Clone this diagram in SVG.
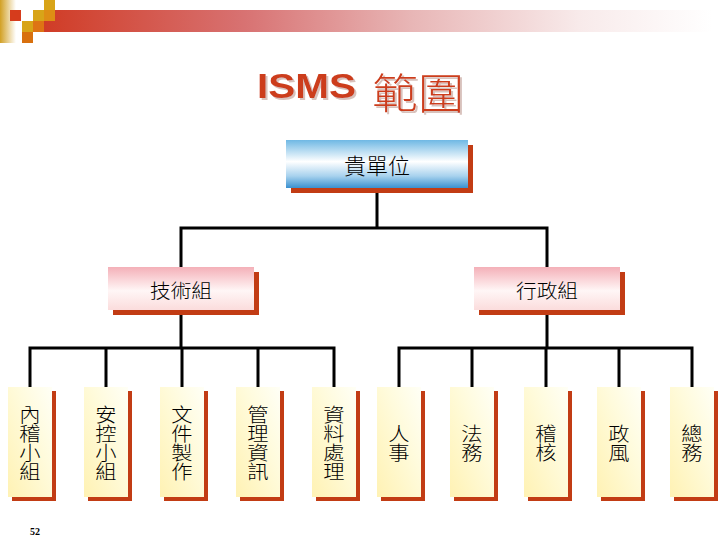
<svg xmlns="http://www.w3.org/2000/svg" width="720" height="540" viewBox="0 0 720 540">
<defs>
<linearGradient id="bar" x1="0" y1="0" x2="1" y2="0">
<stop offset="0" stop-color="#d03c26"/>
<stop offset="0.3" stop-color="#d87272"/>
<stop offset="0.55" stop-color="#e8b6b6"/>
<stop offset="0.8" stop-color="#f8eaea"/>
<stop offset="1" stop-color="#ffffff"/>
</linearGradient>
<linearGradient id="gold" x1="0" y1="0" x2="1" y2="0">
<stop offset="0" stop-color="#d2a024"/>
<stop offset="1" stop-color="#ffffff"/>
</linearGradient>
<linearGradient id="blue" x1="0" y1="0" x2="0" y2="1">
<stop offset="0" stop-color="#6fb8e4"/>
<stop offset="0.45" stop-color="#ffffff"/>
<stop offset="0.75" stop-color="#a8d2ee"/>
<stop offset="1" stop-color="#3a90d0"/>
</linearGradient>
<linearGradient id="pink" x1="0" y1="0" x2="0" y2="1">
<stop offset="0" stop-color="#f4b0b8"/>
<stop offset="0.55" stop-color="#fff6f6"/>
<stop offset="1" stop-color="#fbdcdc"/>
</linearGradient>
<linearGradient id="yellow" x1="0" y1="1" x2="1" y2="0">
<stop offset="0" stop-color="#fff2b4"/>
<stop offset="0.6" stop-color="#fffbdc"/>
<stop offset="1" stop-color="#fffff6"/>
</linearGradient>
<filter id="tshadow" x="-5%" y="-10%" width="115%" height="130%">
<feDropShadow dx="2" dy="2" stdDeviation="0.4" flood-color="#c8a8a0" flood-opacity="0.7"/>
</filter>
<style>
.sh{fill:#c23c14}
.top{fill:url(#blue)}
.mid{fill:url(#pink)}
.leaf{fill:url(#yellow)}
.cjk{font-family:"Noto Sans CJK TC","Noto Sans CJK SC",sans-serif;font-weight:300;fill:#000}
.v{font-size:19px;text-anchor:middle}
.conn{stroke:#000;stroke-width:3;fill:none;stroke-linecap:square}
</style>
</defs>

<g id="header">
<rect x="0" y="0" width="16" height="43" fill="url(#gold)"/>
<rect x="44" y="10" width="668" height="22" fill="url(#bar)"/>
<rect x="10" y="10" width="11" height="11" fill="#d63c1c"/>
<rect x="44" y="0" width="11" height="10" fill="#d8a418"/>
<rect x="33" y="10" width="11" height="11" fill="#d8a418"/>
<rect x="44" y="10" width="11" height="11" fill="#de8e14"/>
<rect x="22" y="21" width="11" height="11" fill="#d8a418"/>
<rect x="33" y="21" width="11" height="11" fill="#de7414"/>
<rect x="22" y="32" width="11" height="11" fill="#d8700e"/>
</g>

<g id="title" filter="url(#tshadow)">
<text x="257" y="98" font-family="Liberation Sans, Arial, sans-serif" font-weight="bold" font-size="35" textLength="99" lengthAdjust="spacingAndGlyphs" fill="#cc3d1e">ISMS</text>
<text x="372" y="109" class="cjk" font-size="42" textLength="92" lengthAdjust="spacingAndGlyphs" style="fill:#cc3d1e">範圍</text>
</g>

<g id="connectors">
<path class="conn" d="M377 188V228M181 228H547M181 228V267M547 228V267"/>
<path class="conn" d="M181 310V348M30 348H334M30 348V387M106 348V387M182 348V387M258 348V387M334 348V387"/>
<path class="conn" d="M547 310V348M399 348H692M399 348V387M472 348V387M546 348V387M619 348V387M692 348V387"/>
</g>

<g id="n-root">
<rect class="sh" x="291" y="145" width="182" height="48"/>
<rect class="top" x="286" y="140" width="182" height="48"/>
<text class="cjk" x="377" y="174" font-size="22" text-anchor="middle">貴單位</text>
</g>

<g id="n-tech">
<rect class="sh" x="113" y="272" width="146" height="43"/>
<rect class="mid" x="108" y="267" width="146" height="43"/>
<text class="cjk" x="181" y="298" font-size="19" text-anchor="middle" textLength="62" lengthAdjust="spacingAndGlyphs">技術組</text>
</g>

<g id="n-admin">
<rect class="sh" x="479" y="272" width="146" height="43"/>
<rect class="mid" x="474" y="267" width="146" height="43"/>
<text class="cjk" x="547" y="298" font-size="19" text-anchor="middle" textLength="62" lengthAdjust="spacingAndGlyphs">行政組</text>
</g>

<g id="n-audit-team">
<rect class="sh" x="12" y="391" width="44" height="110"/>
<rect class="leaf" x="8" y="387" width="44" height="110"/>
<text class="cjk v" transform="translate(30 0) scale(1.12 1)"><tspan x="0" y="421.7">內</tspan><tspan x="0" y="440.7">稽</tspan><tspan x="0" y="459.7">小</tspan><tspan x="0" y="478.7">組</tspan></text>
</g>

<g id="n-security-team">
<rect class="sh" x="88" y="391" width="44" height="110"/>
<rect class="leaf" x="84" y="387" width="44" height="110"/>
<text class="cjk v" transform="translate(106 0) scale(1.12 1)"><tspan x="0" y="421.7">安</tspan><tspan x="0" y="440.7">控</tspan><tspan x="0" y="459.7">小</tspan><tspan x="0" y="478.7">組</tspan></text>
</g>

<g id="n-docs">
<rect class="sh" x="164" y="391" width="44" height="110"/>
<rect class="leaf" x="160" y="387" width="44" height="110"/>
<text class="cjk v" transform="translate(182 0) scale(1.12 1)"><tspan x="0" y="421.7">文</tspan><tspan x="0" y="440.7">件</tspan><tspan x="0" y="459.7">製</tspan><tspan x="0" y="478.7">作</tspan></text>
</g>

<g id="n-mis">
<rect class="sh" x="240" y="391" width="44" height="110"/>
<rect class="leaf" x="236" y="387" width="44" height="110"/>
<text class="cjk v" transform="translate(258 0) scale(1.12 1)"><tspan x="0" y="421.7">管</tspan><tspan x="0" y="440.7">理</tspan><tspan x="0" y="459.7">資</tspan><tspan x="0" y="478.7">訊</tspan></text>
</g>

<g id="n-dataproc">
<rect class="sh" x="316" y="391" width="44" height="110"/>
<rect class="leaf" x="312" y="387" width="44" height="110"/>
<text class="cjk v" transform="translate(334 0) scale(1.12 1)"><tspan x="0" y="421.7">資</tspan><tspan x="0" y="440.7">料</tspan><tspan x="0" y="459.7">處</tspan><tspan x="0" y="478.7">理</tspan></text>
</g>

<g id="n-hr">
<rect class="sh" x="381" y="391" width="44" height="110"/>
<rect class="leaf" x="377" y="387" width="44" height="110"/>
<text class="cjk v" transform="translate(399 0) scale(1.12 1)"><tspan x="0" y="440.7">人</tspan><tspan x="0" y="459.7">事</tspan></text>
</g>

<g id="n-legal">
<rect class="sh" x="454" y="391" width="44" height="110"/>
<rect class="leaf" x="450" y="387" width="44" height="110"/>
<text class="cjk v" transform="translate(472 0) scale(1.12 1)"><tspan x="0" y="440.7">法</tspan><tspan x="0" y="459.7">務</tspan></text>
</g>

<g id="n-audit">
<rect class="sh" x="528" y="391" width="44" height="110"/>
<rect class="leaf" x="524" y="387" width="44" height="110"/>
<text class="cjk v" transform="translate(546 0) scale(1.12 1)"><tspan x="0" y="440.7">稽</tspan><tspan x="0" y="459.7">核</tspan></text>
</g>

<g id="n-ethics">
<rect class="sh" x="601" y="391" width="44" height="110"/>
<rect class="leaf" x="597" y="387" width="44" height="110"/>
<text class="cjk v" transform="translate(619 0) scale(1.12 1)"><tspan x="0" y="440.7">政</tspan><tspan x="0" y="459.7">風</tspan></text>
</g>

<g id="n-general">
<rect class="sh" x="674" y="391" width="44" height="110"/>
<rect class="leaf" x="670" y="387" width="44" height="110"/>
<text class="cjk v" transform="translate(692 0) scale(1.12 1)"><tspan x="0" y="440.7">總</tspan><tspan x="0" y="459.7">務</tspan></text>
</g>

<text x="30" y="535" font-family="Liberation Serif, serif" font-weight="bold" font-size="10" fill="#000">52</text>
</svg>
